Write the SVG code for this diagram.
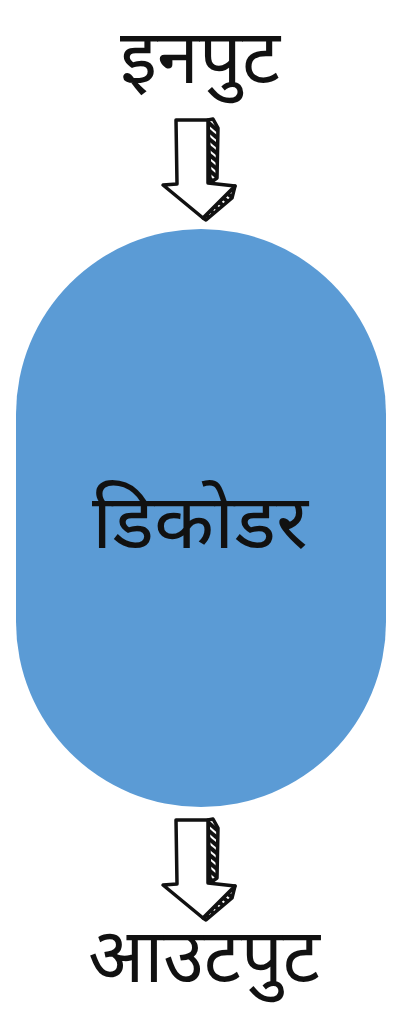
<svg xmlns="http://www.w3.org/2000/svg" width="404" height="1014" viewBox="0 0 404 1014">
<style>
.t{font-family:"Noto Sans Devanagari","Noto Sans","Lohit Devanagari","FreeSans",sans-serif;fill:#111;text-anchor:middle;font-weight:400}
.ol{fill:#fff;stroke:#111;stroke-width:3.5;stroke-linejoin:round}
.sd{fill:url(#hatch);stroke:#111;stroke-width:3.5;stroke-linejoin:round}
</style>
<defs>
<pattern id="hatch" width="6" height="6" patternUnits="userSpaceOnUse" patternTransform="rotate(-50)">
<rect width="6" height="6" fill="#111"/>
<rect width="2" height="6" fill="#fff"/>
</pattern>
<g id="arr">
<path class="sd" d="M208,120 L213,119 L218,128 L217,178 L210,183 Z"/>
<path class="sd" d="M235,186 L232,198 L206,220 L203,218 Z"/>
<path class="ol" d="M176,120 L208,120 L208,183 L235,186 L203,218 L163,185 L177,184 Z"/>
</g>
</defs>
<g id="input"><text class="t" x="200" y="83" font-size="75" textLength="160" lengthAdjust="spacingAndGlyphs">इनपुट</text></g>
<g id="connectors">
<use href="#arr"/>
<use href="#arr" transform="translate(0,700)"/>
</g>
<g id="decoder">
<rect x="16" y="229" width="370" height="578" rx="185" ry="185" fill="#5b9bd5"/>
<text class="t" x="200" y="548" font-size="76" textLength="216" lengthAdjust="spacingAndGlyphs">डिकोडर</text>
</g>
<g id="output"><text class="t" x="204" y="982" font-size="76" textLength="232" lengthAdjust="spacingAndGlyphs">आउटपुट</text></g>
</svg>
